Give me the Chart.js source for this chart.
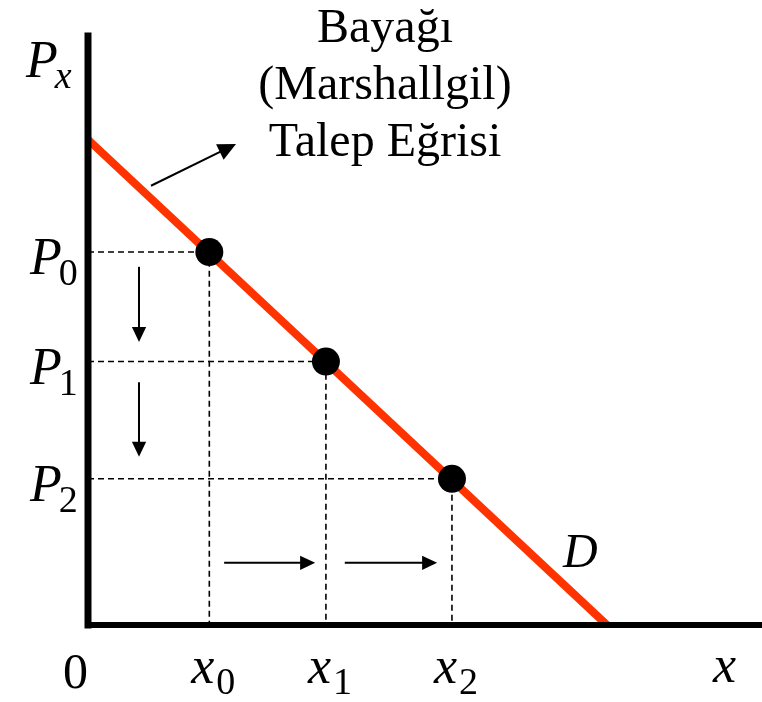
<!DOCTYPE html>
<html>
<head>
<meta charset="utf-8">
<script src="https://cdn.jsdelivr.net/npm/chart.js@4/dist/chart.umd.min.js"></script>
<style>
  html, body { margin: 0; padding: 0; background: #fff; }
  canvas { display: block; }
</style>
</head>
<body>
<canvas id="chart" width="762" height="702"></canvas>
<script>
// quantities x0, x1, x2 and prices P0, P1, P2 (axis units 0..100)
const quantities = [18, 35.3, 54];
const prices = [63, 44.5, 24.7];
const subscripts = ['0', '1', '2'];

// demand curve D: from the price intercept down to the quantity intercept
const demandX = [0, 77];
const demandY = [82, 0];

const titleLines = ['Bayağı', '(Marshallgil)', 'Talep Eğrisi'];

// the dots
const pointData = quantities.map((q, i) => ({ x: q, y: prices[i] }));

// dashed guides from each dot to both axes
const guideSets = quantities.map((q, i) => ({
  data: [{ x: 0, y: prices[i] }, { x: q, y: prices[i] }, { x: q, y: 0 }],
  borderColor: '#000',
  borderWidth: 1.6,
  borderDash: [6, 4],
  pointRadius: 0,
  clip: false
}));

const MATH = '"Liberation Serif", "DejaVu Serif", serif';

// draws e.g. P with subscript 0
function mathLabel(ctx, main, sub, x, base, subItalic, gap) {
  ctx.font = 'italic 52px ' + MATH;
  ctx.textAlign = 'left';
  ctx.fillText(main, x, base);
  const w = ctx.measureText(main).width;
  ctx.font = (subItalic ? 'italic ' : '') + '38px ' + MATH;
  ctx.fillText(sub, x + w + gap, base + 11);
}

function labelWidth(ctx, main, sub, gap) {
  ctx.font = 'italic 52px ' + MATH;
  const w = ctx.measureText(main).width;
  ctx.font = '38px ' + MATH;
  return w + gap + ctx.measureText(sub).width;
}

function arrow(ctx, x1, y1, x2, y2, head) {
  const a = Math.atan2(y2 - y1, x2 - x1);
  ctx.beginPath();
  ctx.moveTo(x1, y1);
  ctx.lineTo(x2 - Math.cos(a) * head * 0.8, y2 - Math.sin(a) * head * 0.8);
  ctx.stroke();
  ctx.beginPath();
  ctx.moveTo(x2, y2);
  ctx.lineTo(x2 - head * Math.cos(a) + (head / 2.1) * Math.sin(a), y2 - head * Math.sin(a) - (head / 2.1) * Math.cos(a));
  ctx.lineTo(x2 - head * Math.cos(a) - (head / 2.1) * Math.sin(a), y2 - head * Math.sin(a) + (head / 2.1) * Math.cos(a));
  ctx.closePath();
  ctx.fill();
}

const textPlugin = {
  id: 'textPlugin',
  afterDraw(chart) {
    const ctx = chart.ctx;
    const xs = chart.scales.x, ys = chart.scales.y;
    ctx.save();
    ctx.fillStyle = '#000';
    ctx.strokeStyle = '#000';
    ctx.textBaseline = 'alphabetic';

    // title
    ctx.font = '48px "Liberation Serif", serif';
    ctx.textAlign = 'center';
    titleLines.forEach((t, i) => ctx.fillText(t, 385, 42 + i * 57));

    // y axis name
    mathLabel(ctx, 'P', 'x', 26, 77, true, -3);

    // price labels
    prices.forEach((p, i) => {
      mathLabel(ctx, 'P', subscripts[i], 30, ys.getPixelForValue(p) + 22, false, -3);
    });

    // quantity labels
    quantities.forEach((q, i) => {
      const w = labelWidth(ctx, 'x', subscripts[i], 2);
      mathLabel(ctx, 'x', subscripts[i], xs.getPixelForValue(q) + 4 - w / 2, 683, false, 2);
    });

    // origin, x axis name, curve name
    ctx.font = '50px ' + MATH;
    ctx.textAlign = 'left';
    ctx.fillText('0', 63, 688);
    ctx.font = 'italic 52px ' + MATH;
    ctx.fillText('x', 713, 682);
    ctx.font = 'italic 48px ' + MATH;
    ctx.fillText('D', 563, 567);

    // arrows
    ctx.lineWidth = 2;
    const px = v => xs.getPixelForValue(v), py = v => ys.getPixelForValue(v);
    arrow(ctx, px(9.35), py(74.2), px(21.96), py(81.25), 18);
    arrow(ctx, px(7.57), py(60.5), px(7.57), py(47.8), 15);
    arrow(ctx, px(7.57), py(41.0), px(7.57), py(28.4), 15);
    arrow(ctx, px(20.2), py(10.5), px(33.7), py(10.5), 15);
    arrow(ctx, px(38.1), py(10.5), px(51.8), py(10.5), 15);
    ctx.restore();
  }
};

new Chart(document.getElementById('chart'), {
  type: 'line',
  data: {
    datasets: [
      {
        data: pointData,
        showLine: false,
        pointRadius: 14,
        pointBackgroundColor: '#000',
        pointBorderColor: '#000',
        pointBorderWidth: 0,
        clip: false
      },
      {
        data: [{ x: 0, y: 0 }, { x: 0, y: 99.5 }],
        borderColor: '#000',
        borderWidth: 7,
        borderCapStyle: 'square',
        pointRadius: 0,
        clip: false
      },
      {
        data: [{ x: 0, y: 0 }, { x: 100, y: 0 }],
        borderColor: '#000',
        borderWidth: 6,
        borderCapStyle: 'square',
        pointRadius: 0,
        clip: false
      },
      {
        data: demandX.map((x, i) => ({ x: x, y: demandY[i] })),
        borderColor: '#ff3300',
        borderWidth: 8,
        pointRadius: 0,
        clip: false
      },
      ...guideSets
    ]
  },
  options: {
    responsive: false,
    animation: false,
    layout: { autoPadding: false, padding: { left: 88, top: 33, right: 0, bottom: 77 } },
    plugins: { legend: { display: false }, tooltip: { enabled: false } },
    scales: {
      x: { type: 'linear', min: 0, max: 100, display: false },
      y: { type: 'linear', min: 0, max: 100, display: false }
    }
  },
  plugins: [textPlugin]
});
</script>
</body>
</html>
